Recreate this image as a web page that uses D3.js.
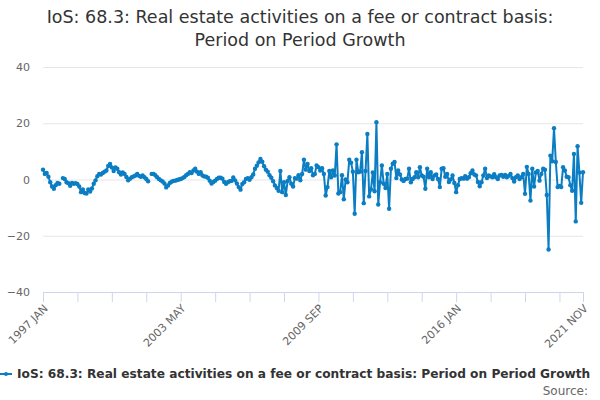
<!DOCTYPE html>
<html><head><meta charset="utf-8">
<script src="https://cdn.jsdelivr.net/npm/d3@7"></script>
<style>
body{margin:0;background:#fff;}
svg{font-family:"DejaVu Sans",sans-serif;}
</style></head>
<body><svg id="c" width="600" height="400"></svg>
<script>
const monthNames = ["JAN","FEB","MAR","APR","MAY","JUN","JUL","AUG","SEP","OCT","NOV","DEC"];
const years = [1997,1998,1999,2000,2001,2002,2003,2004,2005,2006,2007,2008,2009,2010,2011,2012,2013,2014,2015,2016,2017,2018,2019,2020,2021];
// monthly values per year (Jan..Dec), null = missing
const v1997 = [3.5,2.0,2.3,1.0,-1.0,-2.5,-3.3,-2.0,-1.2,-1.5,null,0.5];
const v1998 = [0.2,-1.0,-1.3,-2.2,-1.2,-1.5,-1.3,-1.6,-2.5,-4.5,-3.5,-4.8];
const v1999 = [-5.0,-3.5,-4.3,-3.2,-1.5,-0.3,1.2,2.0,1.8,2.3,2.8,3.2];
const v2000 = [4.8,5.5,4.3,3.0,4.3,3.8,2.6,1.8,2.5,2.0,0.9,-0.3];
const v2001 = [0.3,0.8,1.1,1.4,2.0,1.3,1.0,1.4,0.8,0.2,-0.6,null];
const v2002 = [2.0,2.0,1.5,0.8,0.2,-0.3,-0.7,-1.4,-2.8,-2.1,-1.2,-0.8];
const v2003 = [-0.5,-0.4,-0.2,0.0,0.2,0.5,0.9,1.5,2.0,2.6,2.3,3.2];
const v2004 = [3.8,2.8,2.0,2.6,1.4,1.1,1.0,0.6,-0.4,-1.4,-0.9,-0.4];
const v2005 = [0.2,0.6,0.6,0.3,-0.9,-1.5,-1.0,-0.6,-0.5,0.7,-0.3,-1.4];
const v2006 = [-2.7,-3.6,-1.6,-1.0,0.2,0.5,-0.1,0.8,1.8,3.8,4.9,6.1];
const v2007 = [7.3,6.3,4.7,3.5,2.8,1.5,0.6,-0.6,-2.1,-3.0,-4.0,3.0];
const v2008 = [-4.5,-1.0,-5.5,-0.5,0.8,-1.5,-2.5,0.5,0.3,1.5,-0.3,2.0];
const v2009 = [7.0,3.5,5.5,3.0,4.0,1.5,2.0,5.0,4.4,3.2,4.0,2.0];
const v2010 = [-5.7,-2.7,3.0,0.8,3.2,1.4,12.5,-5.0,-4.5,1.5,-7.0,0.0];
const v2011 = [-1.0,7.0,6.0,2.8,-12.2,7.0,2.6,2.8,9.7,-8.4,3.0,16.2];
const v2012 = [-6.0,-3.5,2.5,-4.2,20.4,-8.9,-1.0,5.0,-1.5,-3.0,2.0,-10.4];
const v2013 = [3.8,5.6,6.2,0.5,3.2,1.8,0.0,-0.5,0.2,0.3,3.8,-1.0];
const v2014 = [0.2,0.8,2.6,0.8,4.4,1.4,1.0,-3.3,3.8,0.8,2.6,0.2];
const v2015 = [1.4,1.8,0.2,-2.7,3.8,4.0,1.0,2.0,-0.9,0.0,1.4,-1.2];
const v2016 = [-4.5,-2.0,0.2,0.5,0.3,1.2,0.3,0.8,2.2,3.2,1.8,1.4];
const v2017 = [-0.9,-2.4,-1.0,1.4,3.8,0.5,1.4,1.1,0.8,1.9,0.8,0.2];
const v2018 = [1.4,1.6,1.0,1.6,0.8,1.3,2.0,0.5,-0.7,0.8,1.4,0.2];
const v2019 = [0.8,2.0,-5.1,4.5,2.0,-7.5,3.8,-2.5,2.5,3.0,-0.4,2.0];
const v2020 = [3.8,3.5,-5.5,-24.9,8.5,6.5,18.2,6.2,-2.7,-2.3,-2.7,4.4];
const v2021 = [3.2,1.0,0.8,-2.0,-4.0,9.1,-14.9,11.8,2.5,-8.3,2.6];
const yearValues = [v1997,v1998,v1999,v2000,v2001,v2002,v2003,v2004,v2005,v2006,v2007,v2008,v2009,v2010,v2011,v2012,v2013,v2014,v2015,v2016,v2017,v2018,v2019,v2020,v2021];
const yTicks = [-40,-20,0,20,40];
const labelledTicks = ["1997 JAN","2003 MAY","2009 SEP","2016 JAN","2021 NOV"];
const titleLines = ["IoS: 68.3: Real estate activities on a fee or contract basis:","Period on Period Growth"];
const seriesName = "IoS: 68.3: Real estate activities on a fee or contract basis: Period on Period Growth";

const data = [];
years.forEach((y,yi)=>{ yearValues[yi].forEach((v,mi)=>{ data.push({cat: y+" "+monthNames[mi], v: v}); }); });
const categories = data.map(d=>d.cat);

const svg = d3.select("#c");
const L=43, R=583, T=67, B=292;
const color="#0b7dc3";
const x = d3.scalePoint().domain(categories).range([L,R]);
const y = d3.scaleLinear().domain([-40,40]).range([B,T]);

// title
svg.append("g").selectAll("text").data(titleLines).enter().append("text")
  .attr("x",300).attr("y",(d,i)=>23+i*23).attr("text-anchor","middle")
  .attr("font-size","17.5px").attr("fill","#333333").text(d=>d);

// y grid + labels
const ya = svg.append("g").attr("transform",`translate(${L},0)`)
  .call(d3.axisLeft(y).tickValues(yTicks).tickSize(-(R-L)).tickPadding(13).tickFormat(d3.format("d")));
ya.select(".domain").remove();
ya.selectAll(".tick line").attr("stroke","#e6e6e6");
ya.selectAll(".tick text").attr("fill","#666666").attr("font-size","11px").attr("font-family","DejaVu Sans, sans-serif");

// x axis
const tickCats = categories.filter((c,i)=> i%19===0 || i===categories.length-1);
const xa = svg.append("g").attr("transform",`translate(0,${B})`)
  .call(d3.axisBottom(x).tickValues(tickCats).tickSize(10).tickFormat(d=> labelledTicks.includes(d)? d : ""));
xa.select(".domain").attr("stroke","#ccd6eb").attr("d",`M${L},0.5H${R}`);
xa.selectAll(".tick line").attr("stroke","#ccd6eb");
xa.selectAll(".tick text").attr("fill","#666666").attr("font-size","11px").attr("font-family","DejaVu Sans, sans-serif")
  .attr("text-anchor","end").attr("dy",null).attr("y",null)
  .attr("transform","translate(3,15) rotate(-45)").attr("dominant-baseline","middle");

// line
const line = d3.line().defined(d=>d.v!==null).x(d=>x(d.cat)).y(d=>y(d.v));
svg.append("path").datum(data).attr("d",line).attr("fill","none").attr("stroke",color).attr("stroke-width",2).attr("stroke-linejoin","round");
svg.append("g").selectAll("circle").data(data.filter(d=>d.v!==null)).enter().append("circle")
  .attr("cx",d=>x(d.cat)).attr("cy",d=>y(d.v)).attr("r",2.2).attr("fill",color);

// legend
const lg = svg.append("g");
lg.append("line").attr("x1",0).attr("x2",12).attr("y1",374).attr("y2",374).attr("stroke",color).attr("stroke-width",2);
lg.append("circle").attr("cx",6).attr("cy",374).attr("r",2).attr("fill",color);
lg.append("text").attr("x",17).attr("y",378).attr("font-size","12.2px").attr("font-weight","bold").attr("fill","#333333").text(seriesName);

svg.append("text").attr("x",588).attr("y",395).attr("text-anchor","end").attr("font-size","12px").attr("fill","#666666").text("Source:");
</script></body></html>
